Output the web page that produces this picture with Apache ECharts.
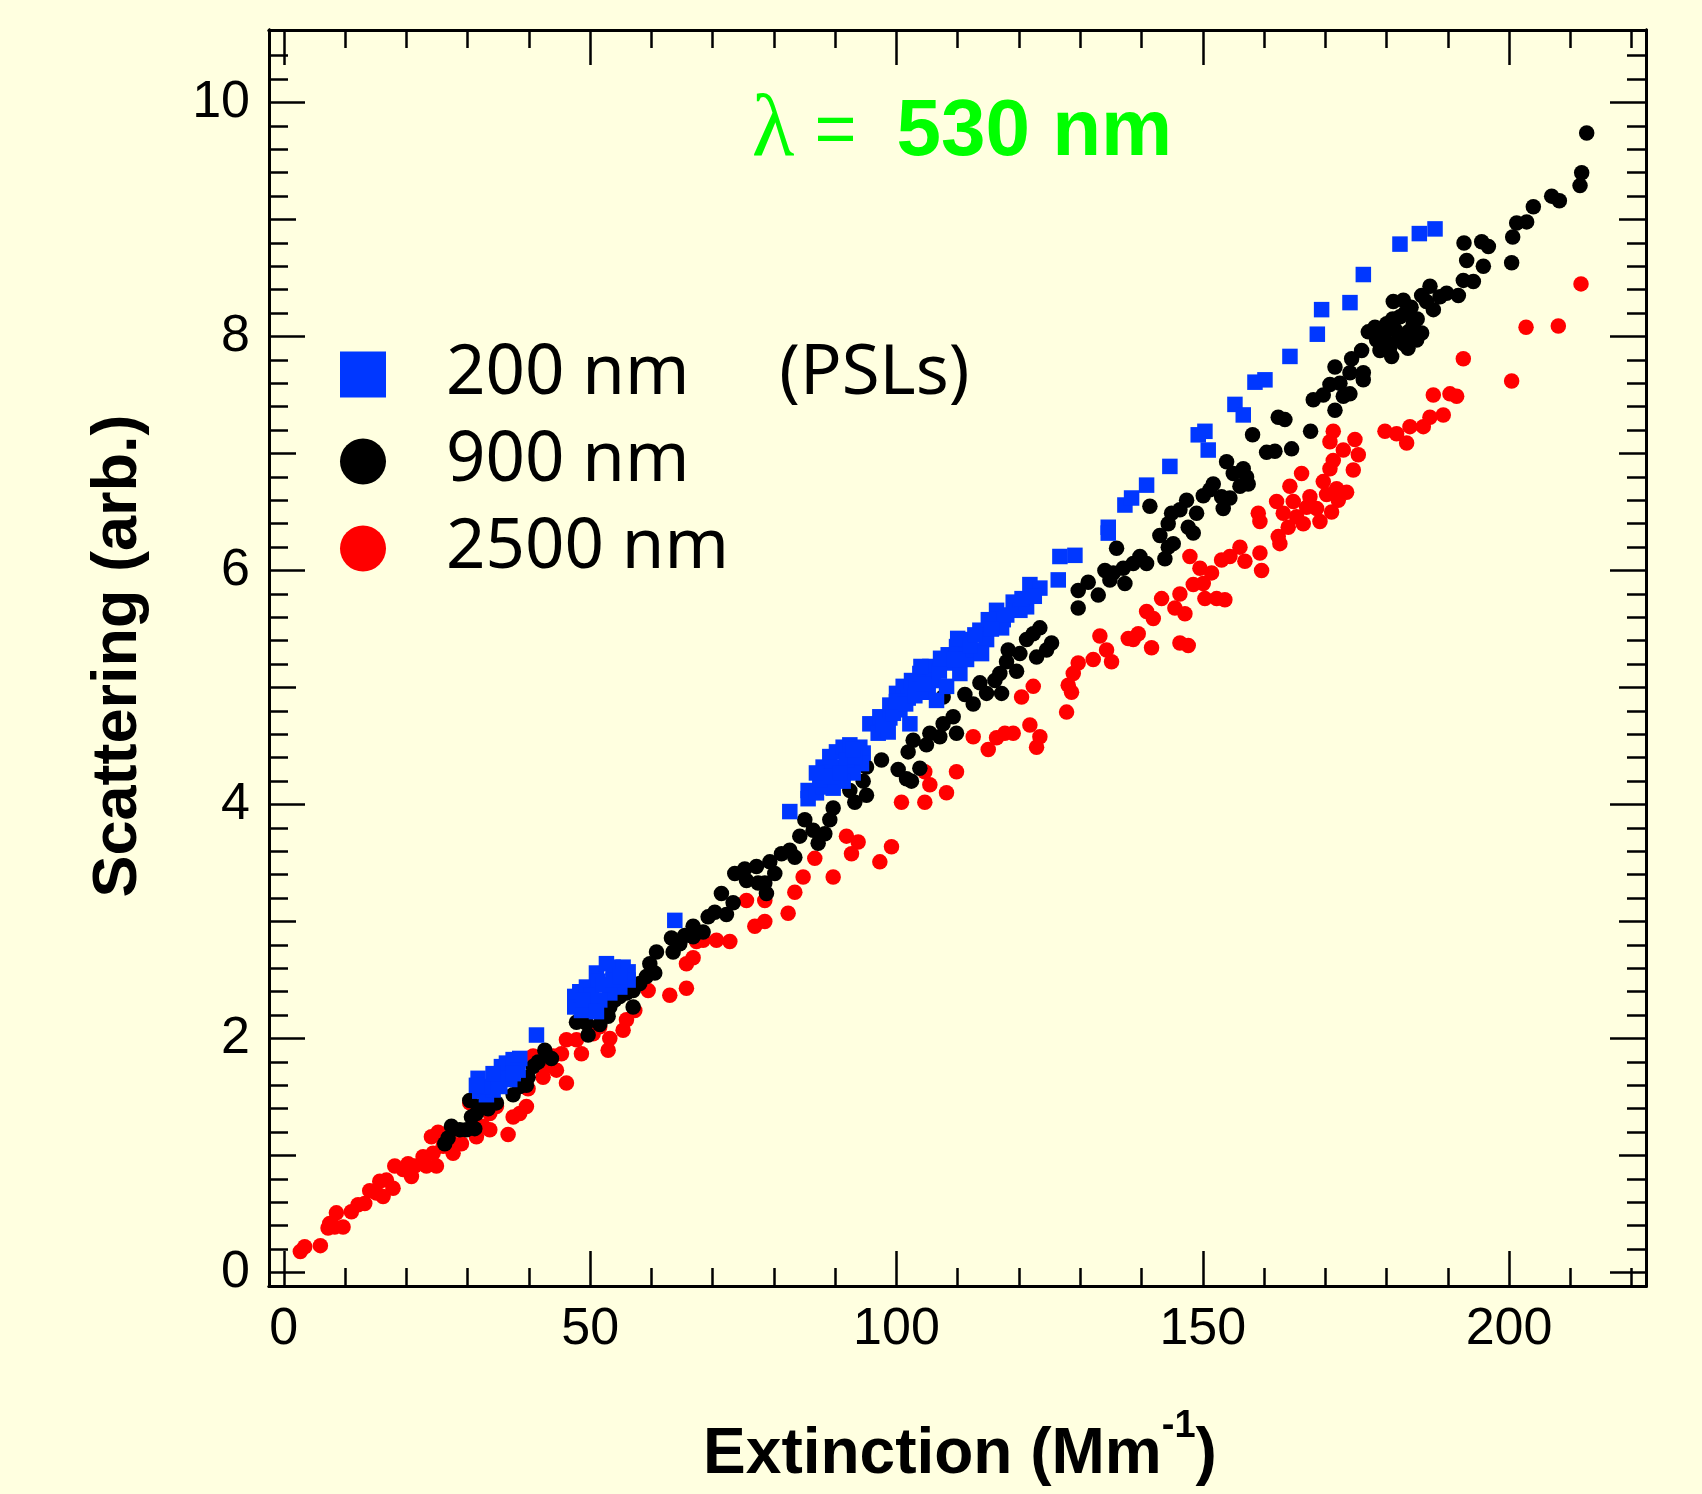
<!DOCTYPE html>
<html><head><meta charset="utf-8">
<script src="https://cdn.jsdelivr.net/npm/echarts@6/dist/echarts.min.js"></script>
<style>html,body{margin:0;padding:0;background:#FFFFE0;}#c{width:1702px;height:1494px;}</style>
</head><body><div id="c"></div>
<script>
// ---------- axis definitions ----------
const X_MIN = -2.42, X_MAX = 222.35;
const Y_MIN = -0.115, Y_MAX = 10.62;
const xTickLabels = [0, 50, 100, 150, 200];
const xMinorTicks = [10,20,30,40,60,70,80,90,110,120,130,140,160,170,180,190,210,220];
const yTickLabels = [0, 2, 4, 6, 8, 10];
const yMidTicks = [1, 3, 5, 7, 9];
const yMinorTicks = [];
for (let i = 1; i <= 52; i++) { if (i % 5 !== 0) yMinorTicks.push(+(i * 0.2).toFixed(1)); }

// ---------- data (Extinction Mm^-1, Scattering arb.) ----------
const psl200 = [
[31.71,1.66],[31.98,1.55],[33.07,1.52],[34.16,1.56],[34.70,1.67],[35.52,1.76],[36.34,1.79],[37.43,1.82],[38.51,1.83],[38.24,1.73],[36.88,1.65],[35.25,1.59],[32.53,1.59],[34.16,1.70],[37.43,1.70],[31.44,1.60],[41.24,2.03],
[47.49,2.36],[47.49,2.27],[48.31,2.40],[49.40,2.44],[51.03,2.56],[51.30,2.49],[52.66,2.64],[53.75,2.61],[55.38,2.61],[56.20,2.57],[56.20,2.50],[54.84,2.44],[53.21,2.39],[51.57,2.33],[49.94,2.27],[48.58,2.24],[50.22,2.37],[52.12,2.46],[53.75,2.50],[54.84,2.53],[48.85,2.33],[51.03,2.23],[63.82,3.01],
[82.59,3.94],[85.58,4.12],[85.58,4.05],[86.94,4.10],[88.03,4.15],[88.58,4.24],[88.03,4.32],[89.12,4.41],[90.21,4.45],[91.30,4.49],[92.39,4.51],[94.02,4.49],[94.57,4.44],[94.29,4.35],[92.93,4.27],[91.30,4.20],[89.67,4.14],[87.49,4.21],[90.21,4.32],[91.84,4.38],[93.20,4.41],[86.94,4.27],[89.12,4.24],[90.76,4.27],[92.93,4.47],
[95.66,4.69],[97.02,4.61],[98.65,4.62],[97.29,4.75],[98.92,4.85],[100.01,4.95],[101.10,5.01],[102.46,5.06],[103.28,5.01],[101.92,4.91],[100.56,4.81],[102.19,4.69],[98.92,4.74],[103.82,5.12],[105.45,5.18],[106.00,5.06],[105.18,4.96],[106.54,4.89],[108.18,5.01],[108.45,5.28],[109.81,5.35],[108.99,5.21],[110.35,5.12],[111.44,5.41],[111.44,5.24],[112.53,5.32],[113.62,5.49],[114.71,5.41],[113.89,5.29],[116.34,5.66],[117.43,5.58],[117.16,5.51],[119.06,5.73],[120.15,5.66],[121.24,5.69],[121.78,5.88],[123.41,5.85],[126.41,5.92],[126.68,6.12],[129.13,6.13],
[97.80,4.68],[99.50,4.78],[100.00,4.88],[101.50,4.86],[103.00,4.93],[104.00,5.18],[104.50,5.03],[107.00,5.14],[107.20,5.25],[109.50,5.24],[110.00,5.42],[112.00,5.36],[112.80,5.45],[115.00,5.58],[115.50,5.50],[118.00,5.62],[120.50,5.76],[122.50,5.78],
[134.57,6.37],[134.57,6.32],[137.29,6.56],[138.38,6.62],[140.83,6.73],[144.63,6.89],[149.26,7.16],[150.89,7.03],[150.35,7.19],[155.25,7.42],[156.61,7.33],
[158.52,7.61],[160.15,7.63],[164.23,7.83],[168.70,8.02],[169.40,8.23],[174.03,8.29],[176.21,8.53],[182.19,8.79],[185.35,8.88],[187.91,8.92]
];
const nm900 = [
[26.27,1.10],[26.81,1.15],[27.36,1.25],[28.72,1.22],[29.81,1.22],[31.17,1.23],[30.62,1.33],[31.44,1.36],[30.35,1.47],[31.98,1.42],[33.34,1.40],[34.70,1.45],[37.43,1.52],[38.51,1.59],[39.60,1.60],[39.87,1.67],[40.69,1.76],[41.51,1.80],[42.60,1.90],[43.68,1.83],[47.77,2.14],[49.40,2.13],[49.67,2.03],[51.57,2.12],[52.94,2.19],[53.21,2.27],[54.02,2.33],[54.84,2.36],[55.93,2.39],[57.02,2.27],[57.02,2.41],[58.11,2.47],[59.19,2.53],[59.74,2.64],[60.55,2.56],[60.83,2.74],[63.27,2.86],[63.55,2.74],[64.64,2.81],[65.45,2.88],[66.81,2.96],[66.81,2.87],
[68.44,2.91],[69.26,3.04],[70.35,3.08],[72.25,3.06],[71.43,3.24],[73.34,3.16],[73.61,3.41],[75.24,3.45],[75.52,3.35],[77.15,3.47],[77.42,3.33],[78.78,3.24],[78.51,3.33],[79.33,3.51],[80.14,3.41],[81.23,3.58],[82.59,3.61],[83.41,3.55],[84.22,3.73],[85.04,3.87],[86.40,3.78],[87.22,3.67],[88.31,3.75],[89.12,3.87],[89.67,3.97],[92.39,4.12],[93.20,4.02],[95.11,4.08],[94.57,4.20],[95.11,4.32],[97.56,4.38],[100.28,4.30],[101.64,4.22],[102.45,4.20],[101.91,4.45],[102.73,4.55],[104.90,4.51],[105.45,4.61],[107.08,4.58],[107.62,4.69],[109.80,4.61],[103.82,4.31],
[107.63,4.92],[109.26,4.75],[111.17,4.94],[112.53,4.86],[113.62,5.04],[114.71,4.95],[116.07,5.06],[117.16,4.95],[116.88,5.12],[117.97,5.22],[119.61,5.14],[118.24,5.32],[120.15,5.29],[121.24,5.41],[122.33,5.46],[122.87,5.26],[123.41,5.51],[124.50,5.32],[125.32,5.38],[129.67,5.68],[129.67,5.83],[131.30,5.90],[132.94,5.79],[134.03,6.00],[134.84,5.92],[135.39,5.98],[137.29,5.89],[137.02,6.02],[138.65,6.06],[139.74,6.12],[140.83,6.06],[143.82,6.10],[144.37,6.20],[135.93,6.19],
[145.18,6.23],[141.37,6.55],[143.00,6.30],[144.36,6.40],[144.91,6.49],[146.27,6.52],[147.36,6.60],[147.63,6.37],[148.45,6.32],[148.99,6.49],[150.08,6.64],[151.17,6.69],[151.71,6.74],[153.34,6.53],[153.07,6.63],[153.89,6.93],[154.43,6.62],[154.98,6.83],[156.07,6.72],[156.61,6.87],[157.15,6.80],[157.42,6.74],[158.13,7.16],[160.42,7.01],[161.78,7.02],[162.32,7.31],[163.41,7.29],[164.50,7.04],[167.60,7.19],[168.04,7.46],[169.67,7.50],[171.58,7.37],[172.94,7.49],[174.02,7.51],[170.76,7.59],[172.39,7.60],[176.20,7.63],
[171.58,7.74],[174.03,7.69],[174.30,7.81],[176.21,7.69],[175.93,7.88],[177.02,8.04],[178.38,7.97],[178.11,8.08],[178.93,7.88],[180.02,8.11],[180.29,7.94],[180.83,7.83],[181.10,8.30],[181.38,8.06],[182.19,8.17],[182.74,8.31],[182.74,7.94],[183.55,8.04],[184.37,8.11],[184.91,7.97],[185.73,8.03],[185.73,8.35],[187.09,8.43],[187.64,8.23],[188.72,8.34],[189.81,8.37],[191.72,8.35],[192.53,8.48],[194.17,8.47],[192.64,8.80],[193.08,8.65],[195.53,8.81],[196.62,8.77],[195.80,8.60],[200.42,8.63],[200.59,8.85],[201.24,8.97],[202.87,8.98],[203.96,9.11],[206.95,9.20],[208.21,9.16],[211.58,9.29],[211.85,9.40],[212.67,9.74],
[179.50,8.00],[181.00,8.15],[182.00,8.00],[183.00,8.20],[184.00,8.25],[185.00,8.15],[186.50,8.30],[180.50,7.90],[183.50,7.90],[179.00,7.93]
];
const nm2500 = [
[2.70,0.18],[3.41,0.22],[5.97,0.23],[7.22,0.38],[7.49,0.42],[8.31,0.39],[9.67,0.39],[8.58,0.51],[11.03,0.52],[12.12,0.58],[13.21,0.59],[14.02,0.70],[15.11,0.68],[16.20,0.65],[15.66,0.78],[16.75,0.79],[17.83,0.72],[18.11,0.91],[19.47,0.88],[20.28,0.93],[20.83,0.82],[21.37,0.91],[22.73,0.99],[23.28,0.91],[24.36,1.02],[24.91,0.91],[24.09,1.16],[25.18,1.20],[26.00,1.08],[27.09,1.13],[27.63,1.02],[28.99,1.10],[30.35,1.45],[31.44,1.16],[32.53,1.25],[33.62,1.22],[33.62,1.36],[34.70,1.42],[36.61,1.18],[37.43,1.33],[38.51,1.36],[39.60,1.42],[39.87,1.57],[40.69,1.85],[42.32,1.67],[42.87,1.76],[44.50,1.73],[45.32,1.87],[46.13,1.62],[43.96,1.85],[46.13,1.99],[47.77,1.99],[48.58,1.87],[50.49,2.04],[51.57,2.10],[53.21,2.00],[52.94,1.90],[55.38,2.07],[55.93,2.16],[57.29,2.24],[59.47,2.41],[63.00,2.37],[65.72,2.43],[65.72,2.64],[66.81,2.69],[67.36,2.83],
[68.44,2.84],[70.62,2.84],[72.80,2.83],[76.88,2.96],[78.51,3.00],[75.52,3.18],[78.51,3.18],[82.32,3.07],[83.41,3.25],[84.77,3.38],[86.67,3.54],[89.67,3.38],[91.84,3.73],[93.75,3.68],[92.66,3.58],[97.29,3.51],[99.19,3.64],[100.82,4.02],[104.63,4.02],[105.45,4.17],[104.63,4.28],[108.17,4.10],[109.80,4.28],[112.53,4.58],
[114.98,4.47],[116.34,4.57],[117.70,4.61],[119.06,4.61],[121.78,4.68],[123.41,4.58],[122.87,4.49],[120.42,4.92],[122.33,5.01],[127.77,4.79],[128.04,5.02],[128.58,4.96],[128.86,5.12],[129.67,5.21],[132.12,5.24],[133.21,5.44],[134.30,5.32],[135.11,5.22],[137.84,5.42],[138.65,5.41],[139.47,5.46],[141.64,5.34],[140.83,5.65],[141.92,5.59],[143.28,5.76],[145.45,5.68],[146.27,5.80],[147.09,5.63],[146.27,5.38],[147.63,5.36],[147.90,6.12],[148.45,5.88],[150.08,5.89],[149.54,6.02],[150.35,5.76],[151.44,5.98],[152.26,5.76],
[153.61,5.75],[153.07,6.09],[154.43,6.12],[156.07,6.20],[156.88,6.08],[159.33,6.15],[159.60,6.00],[159.06,6.49],[159.33,6.42],[162.05,6.59],[162.32,6.29],[162.59,6.23],[163.14,6.49],[164.22,6.72],[164.77,6.59],[163.95,6.37],[165.31,6.46],[166.13,6.83],[166.40,6.40],[166.95,6.54],[167.49,6.63],[168.58,6.53],[169.13,6.42],[169.67,6.76],[170.21,6.65],[170.76,6.87],[171.03,6.50],[171.30,6.94],[171.85,6.70],[172.12,6.60],[172.94,7.03],[173.48,6.67],[174.57,6.86],[174.84,7.12],[175.39,6.99],[171.30,7.19],[170.76,7.10],[179.74,7.19],[181.64,7.17],[183.28,7.09],[183.82,7.23],[186.00,7.23],[187.08,7.31],[189.26,7.33],[187.63,7.50],[190.35,7.51],
[191.44,7.49],[192.53,7.81],[200.42,7.62],[202.77,8.08],[208.04,8.09],[211.74,8.45]
];

const seriesNames = ['200 nm', '900 nm', '2500 nm'];
const colors = { blue: '#0037FF', black: '#000000', red: '#FF0000' };

// ---------- chart ----------
const chart = echarts.init(document.getElementById('c'), null, { renderer: 'canvas' });
const tickStyle = { color: '#000', width: 2.5 };
const lineStyle = { color: '#000', width: 3 };
const labelFont = { fontFamily: 'Liberation Sans', fontSize: 52, color: '#000' };

function xAx(pos, vals, len, withLabel) {
  return {
    type: 'value', position: pos, min: X_MIN, max: X_MAX,
    axisLine: { show: true, onZero: false, lineStyle: lineStyle },
    axisTick: { show: true, inside: true, length: len, customValues: vals, lineStyle: tickStyle },
    axisLabel: Object.assign({ show: withLabel, customValues: xTickLabels, margin: 18 }, labelFont),
    splitLine: { show: false }
  };
}
function yAx(pos, vals, len, withLabel) {
  return {
    type: 'value', position: pos, min: Y_MIN, max: Y_MAX,
    axisLine: { show: true, onZero: false, lineStyle: lineStyle },
    axisTick: { show: true, inside: true, length: len, customValues: vals, lineStyle: tickStyle },
    axisLabel: Object.assign({ show: withLabel, customValues: yTickLabels, margin: 19, padding: [0, 0, 9, 0] }, labelFont),
    splitLine: { show: false }
  };
}

const option = {
  animation: false,
  backgroundColor: '#FFFFE0',
  grid: { left: 269, right: 56, top: 30, bottom: 208, containLabel: false },
  xAxis: [
    xAx('bottom', xTickLabels, 35, true),
    xAx('bottom', xMinorTicks, 18, false),
    xAx('top', xTickLabels, 35, false),
    xAx('top', xMinorTicks, 18, false)
  ],
  yAxis: [
    yAx('left', yTickLabels, 36, true),
    yAx('left', yMidTicks, 27, false),
    yAx('left', yMinorTicks, 19, false),
    yAx('right', yTickLabels, 36, false),
    yAx('right', yMidTicks, 27, false),
    yAx('right', yMinorTicks, 19, false)
  ],
  legend: {
    orient: 'vertical', left: 340, top: 340, padding: 0,
    itemWidth: 46, itemHeight: 46, itemGap: 18, selectedMode: false,
    data: [
      { name: seriesNames[0], icon: 'rect' },
      { name: seriesNames[1], icon: 'circle' },
      { name: seriesNames[2], icon: 'circle' }
    ],
    formatter: function (name) { return name === '200 nm' ? '200 nm     (PSLs)' : name; },
    textStyle: { fontFamily: 'Noto Sans', fontSize: 69, lineHeight: 67, color: '#000', padding: [0, 0, 0, 55] }
  },
  series: [
    { type: 'scatter', name: seriesNames[2], data: nm2500, symbol: 'circle', symbolSize: 15.5,
      itemStyle: { color: colors.red, opacity: 1 }, silent: true, xAxisIndex: 0, yAxisIndex: 0 },
    { type: 'scatter', name: seriesNames[1], data: nm900, symbol: 'circle', symbolSize: 15.5,
      itemStyle: { color: colors.black, opacity: 1 }, silent: true, xAxisIndex: 0, yAxisIndex: 0 },
    { type: 'scatter', name: seriesNames[0], data: psl200, symbol: 'rect', symbolSize: 15.5,
      itemStyle: { color: colors.blue, opacity: 1 }, silent: true, xAxisIndex: 0, yAxisIndex: 0 }
  ],
  graphic: [
    { type: 'text', x: 962, y: 133, silent: true,
      style: { text: '{l|λ}{e| =  }{b|530 nm}', align: 'center', verticalAlign: 'middle',
        rich: {
          l: { fontFamily: 'Liberation Serif', fontSize: 88, fill: '#00FF00' },
          e: { fontFamily: 'Liberation Sans', fontSize: 72, fill: '#00FF00' },
          b: { fontFamily: 'Liberation Sans', fontWeight: 'bold', fontSize: 80, fill: '#00FF00' }
        } } },
    { type: 'text', x: 960, y: 1455, silent: true,
      style: { text: '{b|Extinction (Mm}{s|-1}{b|)}', align: 'center', verticalAlign: 'middle',
        rich: {
          b: { fontFamily: 'Liberation Sans', fontWeight: 'bold', fontSize: 64, lineHeight: 94, fill: '#000' },
          s: { fontFamily: 'Liberation Sans', fontWeight: 'bold', fontSize: 38, lineHeight: 38, verticalAlign: 'top', fill: '#000' }
        } } },
    { type: 'text', x: 119, y: 656, rotation: Math.PI / 2, silent: true,
      style: { text: 'Scattering (arb.)', fontFamily: 'Liberation Sans', fontWeight: 'bold', fontSize: 63,
        fill: '#000', align: 'center', verticalAlign: 'middle' } }
  ]
};
chart.setOption(option);
</script></body></html>
